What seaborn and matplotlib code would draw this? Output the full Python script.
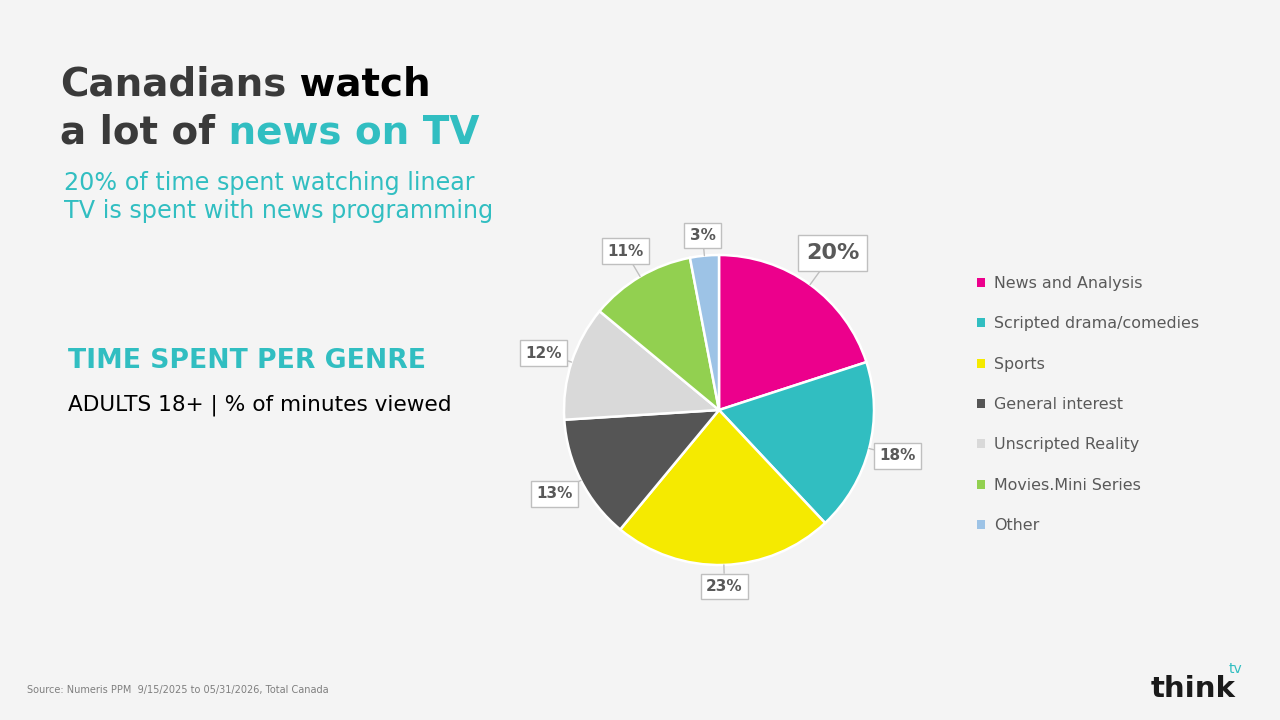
import numpy as np
import matplotlib
matplotlib.use("Agg")
import matplotlib.pyplot as plt
from matplotlib.patches import Patch
import seaborn as sns

genres = ["News and Analysis", "Scripted drama/comedies", "Sports", "General interest",
          "Unscripted Reality", "Movies.Mini Series", "Other"]
shares = [20, 18, 23, 13, 12, 11, 3]
colors = ["#EC008C", "#31BEC1", "#F5EA00", "#555555", "#D9D9D9", "#92D050", "#9DC3E6"]
label_r = [1.25, 1.19, 1.14, 1.19, 1.19, 1.19, 1.13]

sns.set_theme(style="white")
plt.rcParams['font.family'] = ['DejaVu Sans']

BG = "#F4F4F4"
TEAL = "#31BEC1"
fig = plt.figure(figsize=(12.8, 7.2), dpi=100, facecolor=BG)

# Pie axes: center (719,410) px, radius 155 px
W, H = 1280, 720
cx, cy, half = 719, 410, 200
ax = fig.add_axes([(cx - half) / W, (H - cy - half) / H, 2 * half / W, 2 * half / H])
ax.set_facecolor(BG)
lim = half / 155
wedges, _ = ax.pie(shares, colors=colors, startangle=90, counterclock=False, radius=1,
                   wedgeprops=dict(edgecolor="white", linewidth=1.8))
ax.set_xlim(-lim, lim)
ax.set_ylim(-lim, lim)
ax.set_aspect("equal")
ax.axis("off")

for i, (w, v) in enumerate(zip(wedges, shares)):
    mid = np.deg2rad((w.theta1 + w.theta2) / 2)
    r = label_r[i]
    tx, ty = r * np.cos(mid), r * np.sin(mid)
    ex, ey = 1.0 * np.cos(mid), 1.0 * np.sin(mid)
    big = i == 0
    ax.annotate(f"{v}%", xy=(ex, ey), xytext=(tx, ty), ha="center", va="center",
                fontsize=16 if big else 11, fontweight="bold", color="#595959",
                bbox=dict(boxstyle="square,pad=0.35", fc="white", ec="#BFBFBF", lw=1),
                arrowprops=dict(arrowstyle="-", color="#BFBFBF", lw=1, shrinkA=0, shrinkB=0))

handles = [Patch(facecolor=c, edgecolor="none") for c in colors]
leg = fig.legend(handles, genres, loc="upper left", bbox_to_anchor=(977 / W, 1 - 276 / H),
                 frameon=False, fontsize=11.4, labelcolor="#595959", handlelength=0.5,
                 handleheight=0.5, handletextpad=0.6, labelspacing=1.6, borderaxespad=0,
                 borderpad=0)

# Titles
TS = 28
t1 = fig.text(60 / W, 1 - 95 / H, "Canadians", fontsize=TS, fontweight="bold", color="#3A3A3A",
              va="baseline")
fig.canvas.draw()
plt.annotate(" watch", xy=(1, 0), xycoords=t1, fontsize=TS, fontweight="bold",
             color="#000000", va="bottom", ha="left", annotation_clip=False)
t2 = fig.text(60 / W, 1 - 143 / H, "a lot of", fontsize=TS, fontweight="bold", color="#3A3A3A",
              va="baseline")
plt.annotate(" news on TV", xy=(1, 0), xycoords=t2, fontsize=TS, fontweight="bold",
             color=TEAL, va="bottom", ha="left", annotation_clip=False)

fig.text(64 / W, 1 - 190 / H, "20% of time spent watching linear", fontsize=17.2, color=TEAL,
         va="baseline")
fig.text(64 / W, 1 - 218 / H, "TV is spent with news programming", fontsize=17.2, color=TEAL,
         va="baseline")

fig.text(68 / W, 1 - 368 / H, "TIME SPENT PER GENRE", fontsize=19.2, fontweight="bold", color=TEAL,
         va="baseline")
fig.text(68 / W, 1 - 411 / H, "ADULTS 18+ | % of minutes viewed", fontsize=15.6, color="#000000",
         va="baseline")

fig.text(27 / W, 1 - 693 / H, "Source: Numeris PPM  9/15/2025 to 05/31/2026, Total Canada",
         fontsize=7, color="#7F7F7F", va="baseline")

# Logo
lg = fig.text(1151 / W, 1 - 697 / H, "think", fontsize=21, fontweight="bold", color="#1A1A1A",
              va="baseline")
fig.canvas.draw()
plt.annotate("tv", xy=(1, 1), xycoords=lg, xytext=(-5, -1), textcoords="offset points",
             fontsize=10, color=TEAL, ha="left", va="bottom", annotation_clip=False)

fig.savefig("out.png", dpi=100, facecolor=BG)
